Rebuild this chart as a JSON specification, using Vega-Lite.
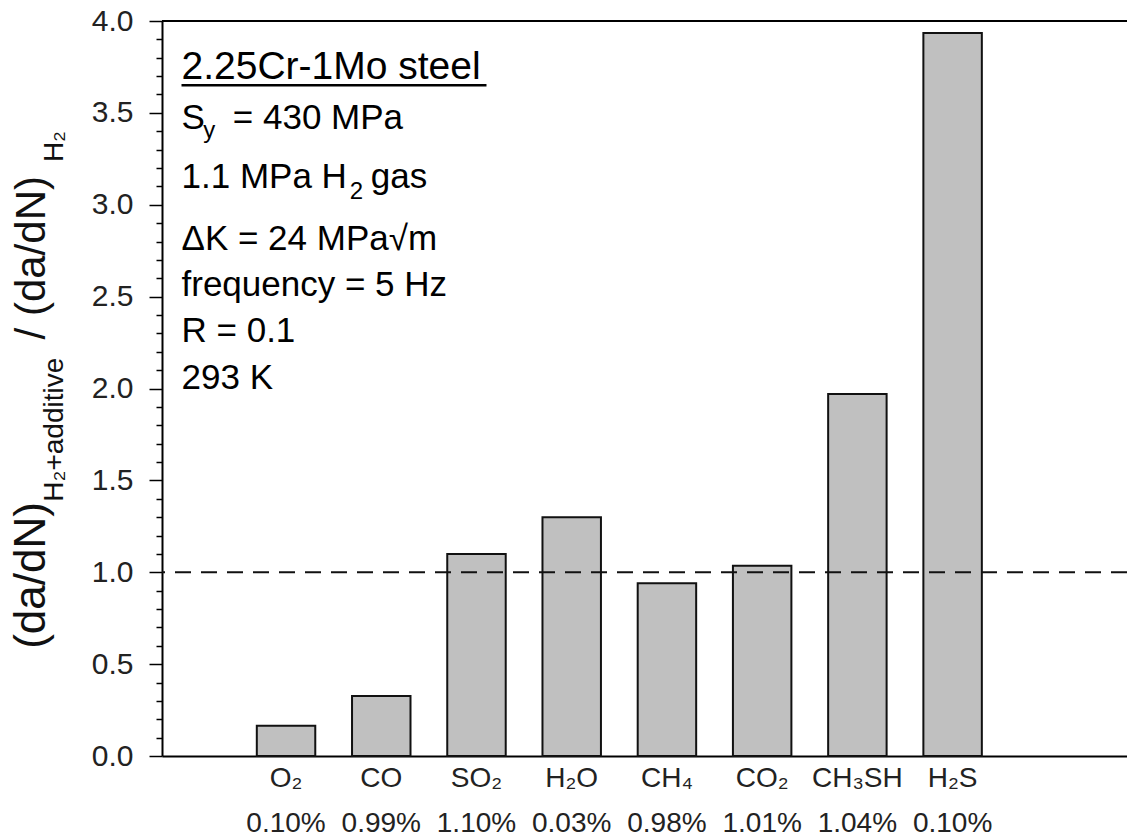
{
  "$schema": "https://vega.github.io/schema/vega-lite/v6.json",
  "width": 965,
  "height": 735,
  "autosize": "none",
  "padding": {"left": 162, "top": 21, "right": 0, "bottom": 83},
  "background": "white",
  "config": {"view": {"stroke": null}, "font": "Liberation Sans"},
  "layer": [
    {
      "data": {"values": [
        {"gas": "O₂", "concentration": "0.10%", "label": "O₂|0.10%", "ratio": 0.165},
        {"gas": "CO", "concentration": "0.99%", "label": "CO|0.99%", "ratio": 0.327},
        {"gas": "SO₂", "concentration": "1.10%", "label": "SO₂|1.10%", "ratio": 1.10},
        {"gas": "H₂O", "concentration": "0.03%", "label": "H₂O|0.03%", "ratio": 1.30},
        {"gas": "CH₄", "concentration": "0.98%", "label": "CH₄|0.98%", "ratio": 0.94},
        {"gas": "CO₂", "concentration": "1.01%", "label": "CO₂|1.01%", "ratio": 1.035},
        {"gas": "CH₃SH", "concentration": "1.04%", "label": "CH₃SH|1.04%", "ratio": 1.97},
        {"gas": "H₂S", "concentration": "0.10%", "label": "H₂S|0.10%", "ratio": 3.935}
      ]},
      "mark": {"type": "bar", "fill": "#c0c0c0", "stroke": "#111111", "strokeWidth": 2},
      "encoding": {
        "x": {
          "field": "label", "type": "nominal", "sort": null,
          "scale": {"domain": ["O₂|0.10%", "CO|0.99%", "SO₂|1.10%", "H₂O|0.03%", "CH₄|0.98%", "CO₂|1.01%", "CH₃SH|1.04%", "H₂S|0.10%", " "], "paddingInner": 0.386, "paddingOuter": 0.76, "align": 0.655},
          "axis": {
            "title": null, "ticks": false, "domain": true, "domainColor": "#000000", "domainWidth": 2,
            "labelAngle": 0, "labelFont": "Liberation Sans", "labelFontSize": 28, "labelColor": "#222222",
            "labelExpr": "split(datum.label, '|')", "labelLineHeight": 45, "labelPadding": 8, "labelBaseline": "top"
          }
        },
        "y": {
          "field": "ratio", "type": "quantitative",
          "scale": {"domain": [0, 4], "nice": false},
          "axis": {
            "title": null, "grid": false, "tickCount": 40, "labelOverlap": false,
            "labelExpr": "abs(datum.value*2 - round(datum.value*2)) < 0.000001 ? format(datum.value, '.1f') : ''",
            "tickSize": {"condition": {"test": "abs(datum.value*2 - round(datum.value*2)) < 0.000001", "value": 13}, "value": 6},
            "tickColor": "#000000", "tickWidth": 1.5, "domainColor": "#000000", "domainWidth": 2,
            "labelFont": "Liberation Sans", "labelFontSize": 30, "labelColor": "#222222", "labelPadding": 16
          }
        }
      }
    },
    {
      "data": {"values": [{}]},
      "mark": {"type": "rule", "stroke": "#000000", "strokeWidth": 2},
      "encoding": {"y": {"datum": 4, "type": "quantitative", "title": null}}
    },
    {
      "data": {"values": [{}]},
      "mark": {"type": "rule", "stroke": "#111111", "strokeWidth": 2, "strokeDash": [16, 10]},
      "encoding": {"y": {"datum": 1, "type": "quantitative", "title": null}}
    },
    {
      "data": {"values": [{}]},
      "mark": {"type": "text", "text": "2.25Cr-1Mo steel", "align": "left", "baseline": "alphabetic", "fontSize": 39, "font": "Liberation Sans", "color": "#000000", "xOffset": -75.3},
      "encoding": {"x": {"datum": "O₂|0.10%", "bandPosition": 0, "title": null}, "y": {"datum": 3.684, "type": "quantitative", "title": null}}
    },
    {
      "data": {"values": [{}]},
      "mark": {"type": "rule", "stroke": "#000000", "strokeWidth": 2.5, "xOffset": -75.3, "x2Offset": 10},
      "encoding": {"x": {"datum": "O₂|0.10%", "bandPosition": 0, "title": null}, "x2": {"datum": "SO₂|1.10%"}, "y": {"datum": 3.651, "type": "quantitative", "title": null}}
    },
    {
      "data": {"values": [{}]},
      "mark": {"type": "text", "text": "S", "align": "left", "baseline": "alphabetic", "fontSize": 35, "font": "Liberation Sans", "color": "#000000", "xOffset": -75.3},
      "encoding": {"x": {"datum": "O₂|0.10%", "bandPosition": 0, "title": null}, "y": {"datum": 3.411, "type": "quantitative", "title": null}}
    },
    {
      "data": {"values": [{}]},
      "mark": {"type": "text", "text": "y", "align": "left", "baseline": "alphabetic", "fontSize": 24, "font": "Liberation Sans", "color": "#000000", "xOffset": -53.5},
      "encoding": {"x": {"datum": "O₂|0.10%", "bandPosition": 0, "title": null}, "y": {"datum": 3.362, "type": "quantitative", "title": null}}
    },
    {
      "data": {"values": [{}]},
      "mark": {"type": "text", "text": "= 430 MPa", "align": "left", "baseline": "alphabetic", "fontSize": 35, "font": "Liberation Sans", "color": "#000000", "xOffset": -24},
      "encoding": {"x": {"datum": "O₂|0.10%", "bandPosition": 0, "title": null}, "y": {"datum": 3.411, "type": "quantitative", "title": null}}
    },
    {
      "data": {"values": [{}]},
      "mark": {"type": "text", "text": "1.1 MPa H", "align": "left", "baseline": "alphabetic", "fontSize": 35, "font": "Liberation Sans", "color": "#000000", "xOffset": -75.3},
      "encoding": {"x": {"datum": "O₂|0.10%", "bandPosition": 0, "title": null}, "y": {"datum": 3.090, "type": "quantitative", "title": null}}
    },
    {
      "data": {"values": [{}]},
      "mark": {"type": "text", "text": "2", "align": "left", "baseline": "alphabetic", "fontSize": 24, "font": "Liberation Sans", "color": "#000000", "xOffset": 93},
      "encoding": {"x": {"datum": "O₂|0.10%", "bandPosition": 0, "title": null}, "y": {"datum": 3.030, "type": "quantitative", "title": null}}
    },
    {
      "data": {"values": [{}]},
      "mark": {"type": "text", "text": "gas", "align": "left", "baseline": "alphabetic", "fontSize": 35, "font": "Liberation Sans", "color": "#000000", "xOffset": 114},
      "encoding": {"x": {"datum": "O₂|0.10%", "bandPosition": 0, "title": null}, "y": {"datum": 3.090, "type": "quantitative", "title": null}}
    },
    {
      "data": {"values": [{}]},
      "mark": {"type": "text", "text": "ΔK = 24 MPa√m", "align": "left", "baseline": "alphabetic", "fontSize": 35, "font": "Liberation Sans", "color": "#000000", "xOffset": -75.3},
      "encoding": {"x": {"datum": "O₂|0.10%", "bandPosition": 0, "title": null}, "y": {"datum": 2.752, "type": "quantitative", "title": null}}
    },
    {
      "data": {"values": [{}]},
      "mark": {"type": "text", "text": "frequency = 5 Hz", "align": "left", "baseline": "alphabetic", "fontSize": 35, "font": "Liberation Sans", "color": "#000000", "xOffset": -75.3},
      "encoding": {"x": {"datum": "O₂|0.10%", "bandPosition": 0, "title": null}, "y": {"datum": 2.501, "type": "quantitative", "title": null}}
    },
    {
      "data": {"values": [{}]},
      "mark": {"type": "text", "text": "R = 0.1", "align": "left", "baseline": "alphabetic", "fontSize": 35, "font": "Liberation Sans", "color": "#000000", "xOffset": -75.3},
      "encoding": {"x": {"datum": "O₂|0.10%", "bandPosition": 0, "title": null}, "y": {"datum": 2.251, "type": "quantitative", "title": null}}
    },
    {
      "data": {"values": [{}]},
      "mark": {"type": "text", "text": "293 K", "align": "left", "baseline": "alphabetic", "fontSize": 35, "font": "Liberation Sans", "color": "#000000", "xOffset": -75.3},
      "encoding": {"x": {"datum": "O₂|0.10%", "bandPosition": 0, "title": null}, "y": {"datum": 2.000, "type": "quantitative", "title": null}}
    },
    {
      "data": {"values": [{}]},
      "mark": {"type": "text", "text": "(da/dN)", "angle": 270, "align": "left", "baseline": "alphabetic", "fontSize": 44, "font": "Liberation Sans", "color": "#111111", "xOffset": -212},
      "encoding": {"x": {"datum": "O₂|0.10%", "bandPosition": 0, "title": null}, "y": {"datum": 0.583, "type": "quantitative", "title": null}}
    },
    {
      "data": {"values": [{}]},
      "mark": {"type": "text", "text": "H₂+additive", "angle": 270, "align": "left", "baseline": "alphabetic", "fontSize": 28, "font": "Liberation Sans", "color": "#111111", "xOffset": -194},
      "encoding": {"x": {"datum": "O₂|0.10%", "bandPosition": 0, "title": null}, "y": {"datum": 1.384, "type": "quantitative", "title": null}}
    },
    {
      "data": {"values": [{}]},
      "mark": {"type": "text", "text": "/ (da/dN)", "angle": 270, "align": "left", "baseline": "alphabetic", "fontSize": 42, "font": "Liberation Sans", "color": "#111111", "xOffset": -212},
      "encoding": {"x": {"datum": "O₂|0.10%", "bandPosition": 0, "title": null}, "y": {"datum": 2.267, "type": "quantitative", "title": null}}
    },
    {
      "data": {"values": [{}]},
      "mark": {"type": "text", "text": "H₂", "angle": 270, "align": "left", "baseline": "alphabetic", "fontSize": 28, "font": "Liberation Sans", "color": "#111111", "xOffset": -194},
      "encoding": {"x": {"datum": "O₂|0.10%", "bandPosition": 0, "title": null}, "y": {"datum": 3.232, "type": "quantitative", "title": null}}
    }
  ]
}
